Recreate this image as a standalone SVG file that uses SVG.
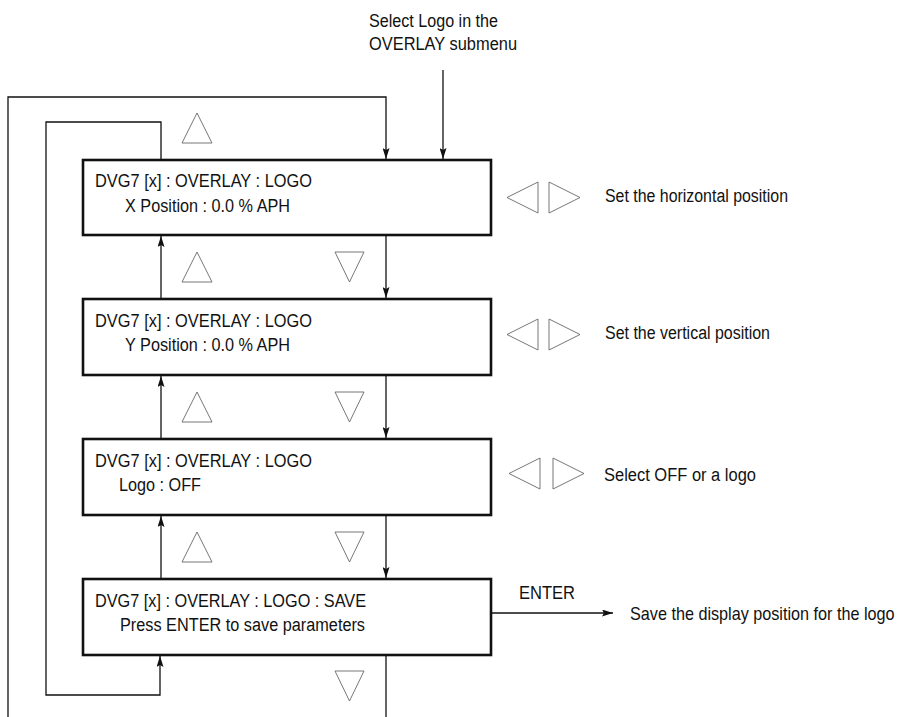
<svg xmlns="http://www.w3.org/2000/svg" width="903" height="717" viewBox="0 0 903 717">
<style>
text{font-family:"Liberation Sans",Arial,sans-serif;font-size:18px;fill:#111;}
.box{fill:#fff;stroke:#111;stroke-width:2.6;}
.ln{fill:none;stroke:#111;stroke-width:1.3;}
.tri{fill:none;stroke:#666;stroke-width:0.9;}
</style>
<defs>
<marker id="ah" viewBox="0 0 11 7" refX="11" refY="3.5" markerWidth="11" markerHeight="7" markerUnits="userSpaceOnUse" orient="auto">
<path d="M0,0 L11,3.5 L0,7 L2,3.5 Z" fill="#111"/>
</marker>
</defs>

<g id="connectors">
<polyline class="ln" points="8,717 8,97 386,97 386,159" marker-end="url(#ah)"/>
<polyline class="ln" points="161,160 161,122 46,122 46,695 160,695 160,656" marker-end="url(#ah)"/>
<line class="ln" x1="443" y1="70" x2="443" y2="159" marker-end="url(#ah)"/>
<line class="ln" x1="386" y1="235" x2="386" y2="298" marker-end="url(#ah)"/>
<line class="ln" x1="386" y1="375" x2="386" y2="438" marker-end="url(#ah)"/>
<line class="ln" x1="386" y1="515" x2="386" y2="578" marker-end="url(#ah)"/>
<line class="ln" x1="386" y1="655" x2="386" y2="717"/>
<line class="ln" x1="161" y1="299" x2="161" y2="236" marker-end="url(#ah)"/>
<line class="ln" x1="161" y1="439" x2="161" y2="376" marker-end="url(#ah)"/>
<line class="ln" x1="161" y1="579" x2="161" y2="516" marker-end="url(#ah)"/>
<line class="ln" x1="491" y1="613" x2="613" y2="613" marker-end="url(#ah)"/>
</g>

<g id="node-x">
<rect class="box" x="83" y="160" width="408" height="75"/>
<text x="95" y="187" textLength="217" lengthAdjust="spacingAndGlyphs">DVG7 [x] : OVERLAY : LOGO</text>
<text x="125" y="212" textLength="165" lengthAdjust="spacingAndGlyphs">X Position : 0.0 % APH</text>
</g>
<g id="node-y">
<rect class="box" x="83" y="299" width="408" height="76"/>
<text x="95" y="327" textLength="217" lengthAdjust="spacingAndGlyphs">DVG7 [x] : OVERLAY : LOGO</text>
<text x="125" y="351" textLength="165" lengthAdjust="spacingAndGlyphs">Y Position : 0.0 % APH</text>
</g>
<g id="node-logo">
<rect class="box" x="83" y="439" width="408" height="76"/>
<text x="95" y="467" textLength="217" lengthAdjust="spacingAndGlyphs">DVG7 [x] : OVERLAY : LOGO</text>
<text x="119" y="491" textLength="82" lengthAdjust="spacingAndGlyphs">Logo : OFF</text>
</g>
<g id="node-save">
<rect class="box" x="83" y="579" width="408" height="76"/>
<text x="95" y="607" textLength="271" lengthAdjust="spacingAndGlyphs">DVG7 [x] : OVERLAY : LOGO : SAVE</text>
<text x="120" y="631" textLength="245" lengthAdjust="spacingAndGlyphs">Press ENTER to save parameters</text>
</g>

<g id="buttons">
<polygon class="tri" points="182,143 212,143 197,113"/>
<polygon class="tri" points="182,282 212,282 197,252"/>
<polygon class="tri" points="335,252 364,252 349.5,282"/>
<polygon class="tri" points="182,422 212,422 197,392"/>
<polygon class="tri" points="335,392 364,392 349.5,422"/>
<polygon class="tri" points="182,562 212,562 197,532"/>
<polygon class="tri" points="335,532 364,532 349.5,562"/>
<polygon class="tri" points="335,671 364,671 349.5,701"/>
<polygon class="tri" points="538,182 538,213 507,197.5"/>
<polygon class="tri" points="549,182 549,213 580,197.5"/>
<polygon class="tri" points="538,319 538,350 507,334.5"/>
<polygon class="tri" points="549,319 549,350 580,334.5"/>
<polygon class="tri" points="540,458 540,489 509,473.5"/>
<polygon class="tri" points="553,458 553,489 584,473.5"/>
</g>

<g id="labels">
<text x="369" y="27" textLength="129" lengthAdjust="spacingAndGlyphs">Select Logo in the</text>
<text x="369" y="50" textLength="148" lengthAdjust="spacingAndGlyphs">OVERLAY submenu</text>
<text x="605" y="202" textLength="183" lengthAdjust="spacingAndGlyphs">Set the horizontal position</text>
<text x="605" y="339" textLength="165" lengthAdjust="spacingAndGlyphs">Set the vertical position</text>
<text x="604" y="481" textLength="152" lengthAdjust="spacingAndGlyphs">Select OFF or a logo</text>
<text x="519" y="599" textLength="56" lengthAdjust="spacingAndGlyphs">ENTER</text>
<text transform="translate(630,620) scale(0.9,1)" x="0" y="0">Save the display position for the logo</text>
</g>
</svg>
